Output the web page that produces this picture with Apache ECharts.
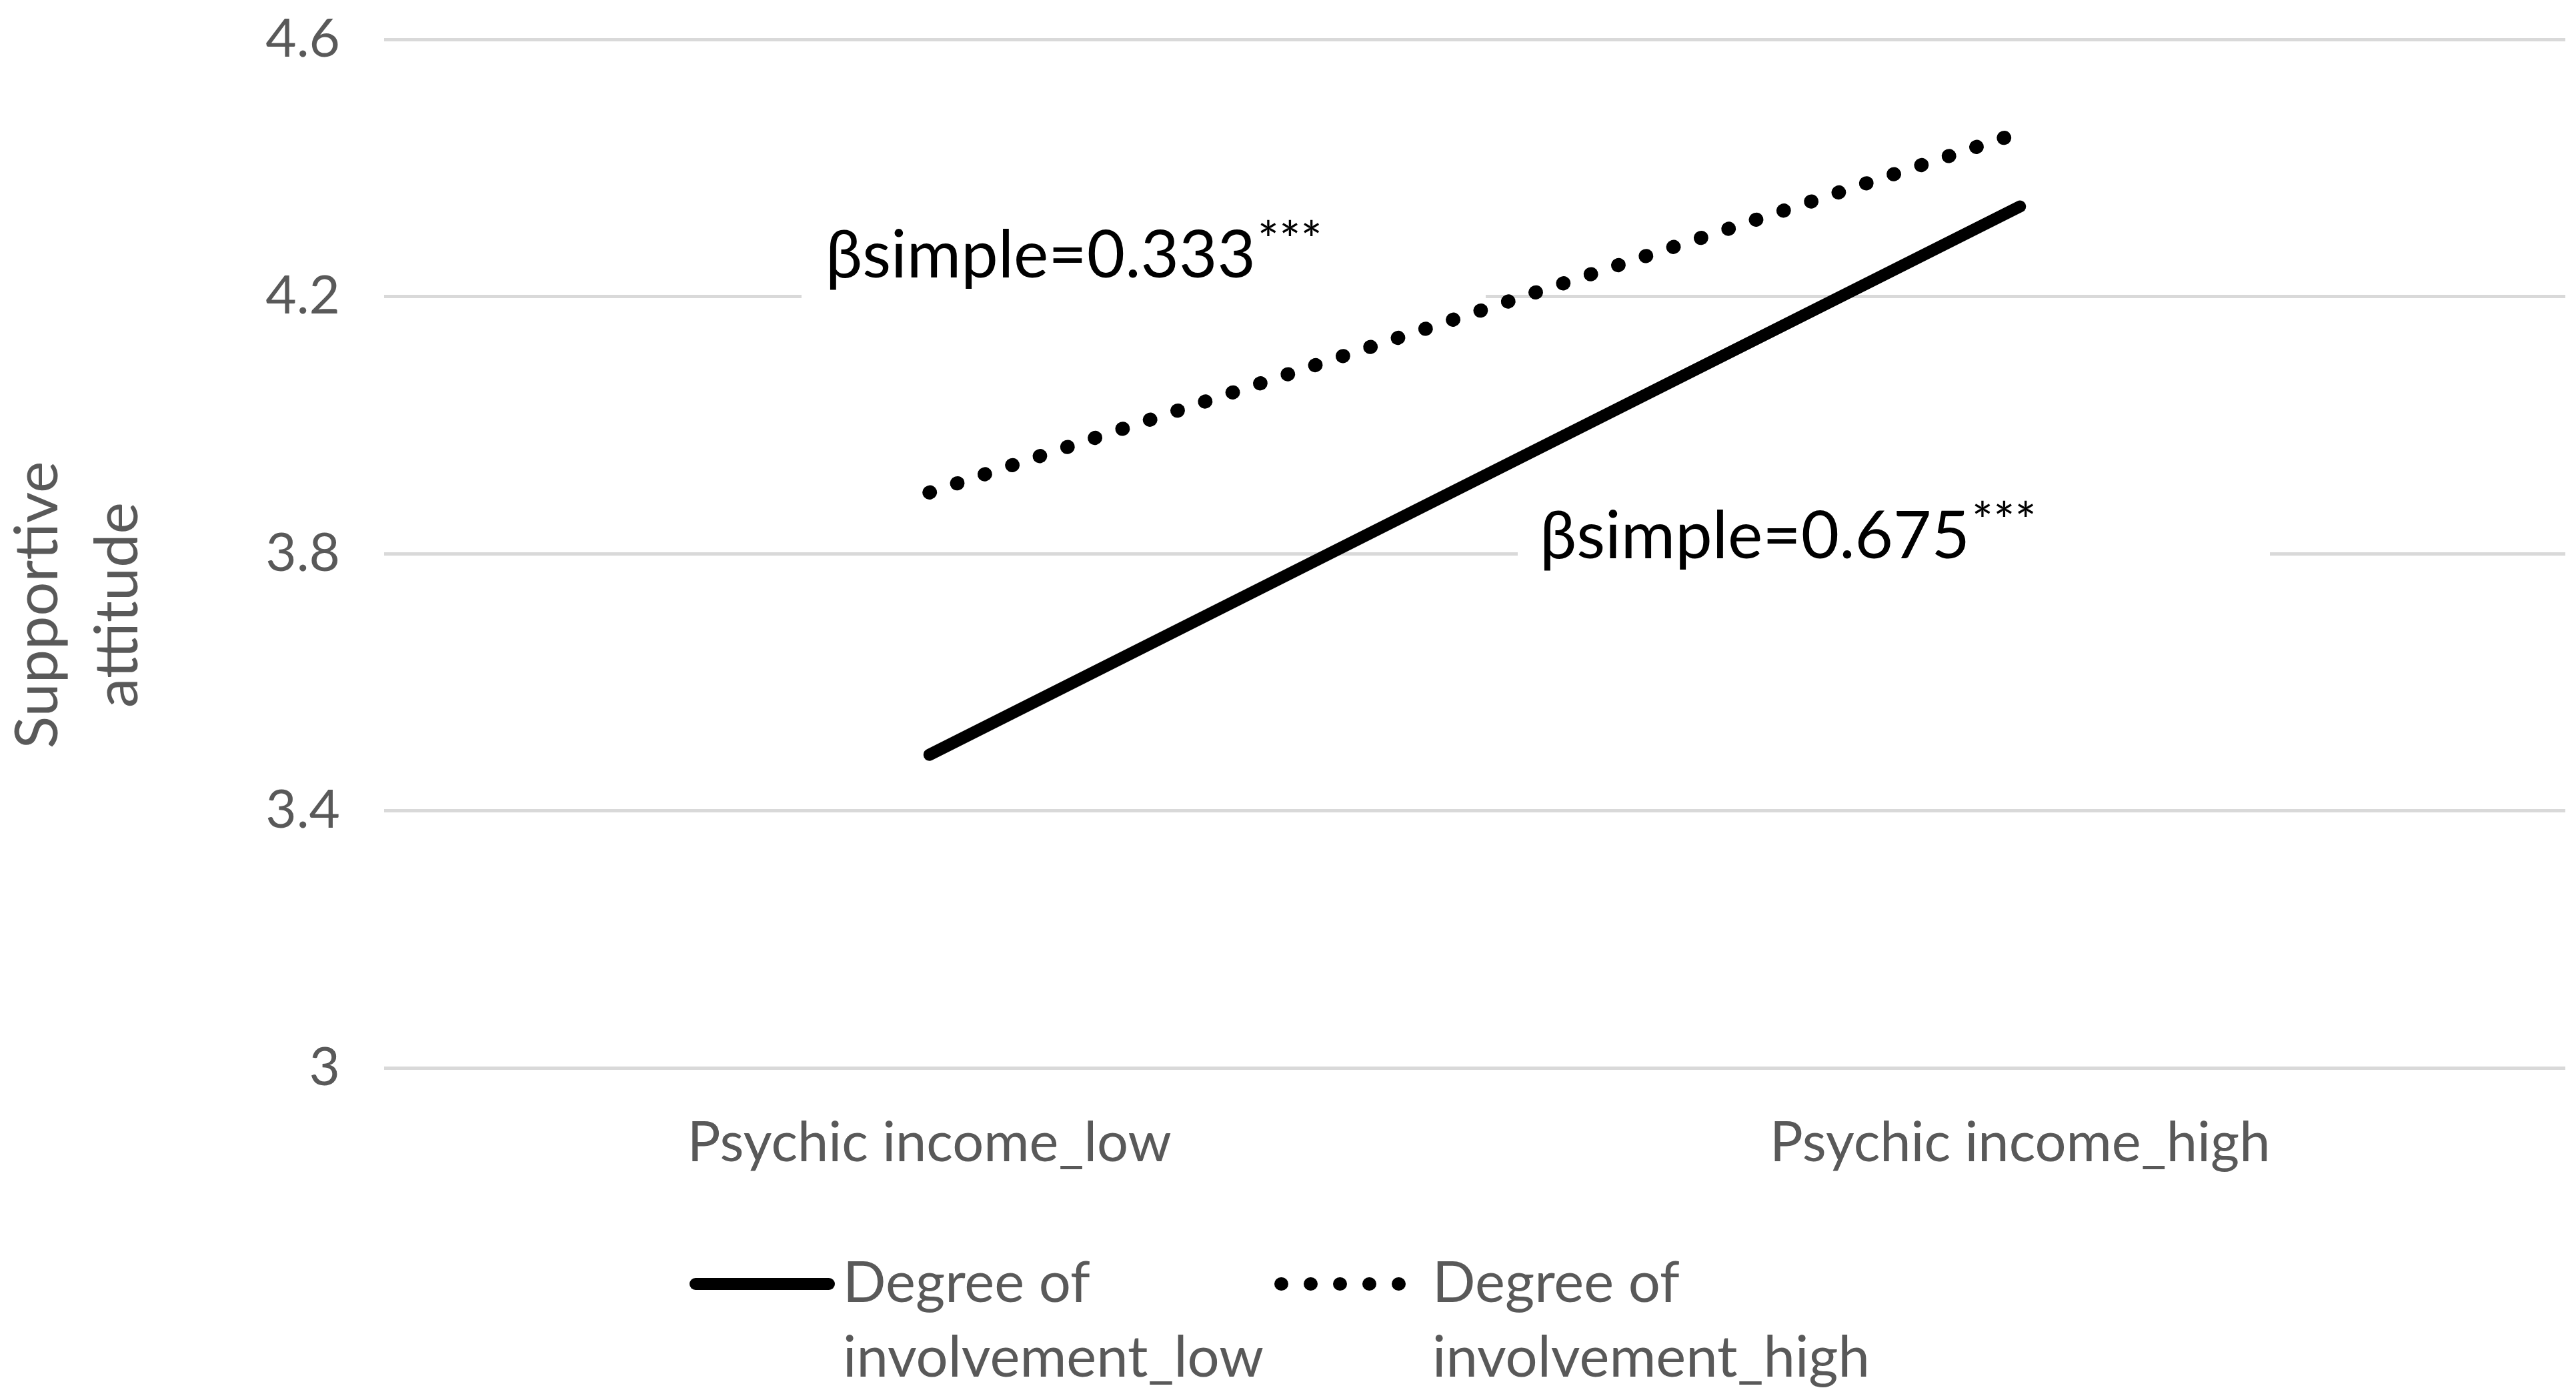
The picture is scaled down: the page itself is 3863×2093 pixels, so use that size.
<!DOCTYPE html>
<html>
<head>
<meta charset="utf-8">
<script src="https://cdn.jsdelivr.net/npm/echarts@6/dist/echarts.min.js"></script>
<style>
html,body{margin:0;padding:0;background:#ffffff;}
#chart{width:3863px;height:2093px;}
</style>
</head>
<body>
<div id="chart"></div>
<script>
// ---- data ----
const categories = ['Psychic income_low', 'Psychic income_high'];
const involvementLow = [3.487, 4.34];
const involvementHigh = [3.895, 4.455];
const seriesNames = ['Degree of\ninvolvement_low', 'Degree of\ninvolvement_high'];
const yMin = 3;
const yMax = 4.6;
const yInterval = 0.4;
const yAxisTitle = 'Supportive\nattitude';
const betaLabels = ['βsimple=0.333', 'βsimple=0.675'];
const betaStars = ['***', '***'];

// ---- styles ----
const FONT = 'Lato';
const GREY = '#595959';
const GRID = '#d9d9d9';

const chart = echarts.init(document.getElementById('chart'), null, {renderer: 'canvas'});

function betaRich(i) {
  return {
    text: '{a|' + betaLabels[i] + '}{b|' + betaStars[i] + '}',
    rich: {
      a: {fontFamily: FONT, fontSize: 99, fill: '#000000', lineHeight: 120},
      b: {fontFamily: FONT, fontSize: 76, fill: '#000000', lineHeight: 120, verticalAlign: 'top', padding: [0, 0, 0, 3]}
    },
    verticalAlign: 'middle',
    align: 'left'
  };
}

const legendText = {color: GREY, fontFamily: FONT, fontSize: 85, lineHeight: 112};

const option = {
  backgroundColor: '#ffffff',
  animation: false,
  grid: {left: 576, right: 16, top: 59, bottom: 492, containLabel: false},
  xAxis: {
    type: 'category',
    data: categories,
    boundaryGap: true,
    axisLine: {show: false},
    axisTick: {show: false},
    splitLine: {show: false},
    axisLabel: {color: GREY, fontFamily: FONT, fontSize: 83, lineHeight: 98, margin: 64}
  },
  yAxis: {
    type: 'value',
    min: yMin,
    max: yMax,
    interval: yInterval,
    axisLine: {show: false},
    axisTick: {show: false},
    splitLine: {show: true, lineStyle: {color: GRID, width: 5}},
    axisLabel: {color: GREY, fontFamily: FONT, fontSize: 80, margin: 66}
  },
  legend: [
    {
      data: [seriesNames[0]],
      left: 1034, top: 1757, padding: 0,
      itemWidth: 200, itemHeight: 18,
      formatter: function (name) { return '\n' + name; },
      itemStyle: {opacity: 0},
      lineStyle: {color: '#000000', width: 18, cap: 'round', type: 'solid'},
      textStyle: Object.assign({padding: [0, 0, 0, 16]}, legendText)
    },
    {
      data: [seriesNames[1]],
      left: 1911, top: 1757, padding: 0,
      itemWidth: 178, itemHeight: 20,
      formatter: function (name) { return '\n' + name; },
      itemStyle: {opacity: 0},
      lineStyle: {color: '#000000', width: 20, cap: 'round', type: [1, 43]},
      textStyle: Object.assign({padding: [0, 0, 0, 44]}, legendText)
    }
  ],
  graphic: [
    {type: 'rect', z: 1, shape: {x: 1202, y: 300, width: 1026, height: 170}, style: {fill: '#ffffff'}},
    {type: 'rect', z: 1, shape: {x: 2276, y: 740, width: 1128, height: 160}, style: {fill: '#ffffff'}},
    {type: 'text', z: 3, x: 1238, y: 384, style: betaRich(0)},
    {type: 'text', z: 3, x: 2309, y: 805, style: betaRich(1)},
    {type: 'text', z: 3, x: 117, y: 907, rotation: Math.PI / 2,
      style: {text: yAxisTitle, fontFamily: FONT, fontSize: 90, lineHeight: 120, fill: GREY, align: 'center', verticalAlign: 'middle'}}
  ],
  series: [
    {
      name: seriesNames[0],
      type: 'line',
      data: involvementLow,
      symbol: 'none',
      z: 5,
      lineStyle: {color: '#000000', width: 18, cap: 'round'},
      itemStyle: {color: '#000000'}
    },
    {
      name: seriesNames[1],
      type: 'line',
      data: involvementHigh,
      symbol: 'none',
      z: 5,
      lineStyle: {color: '#000000', width: 21, type: [1, 42.5], cap: 'round'},
      itemStyle: {color: '#000000'}
    }
  ]
};
chart.setOption(option);
</script>
</body>
</html>
